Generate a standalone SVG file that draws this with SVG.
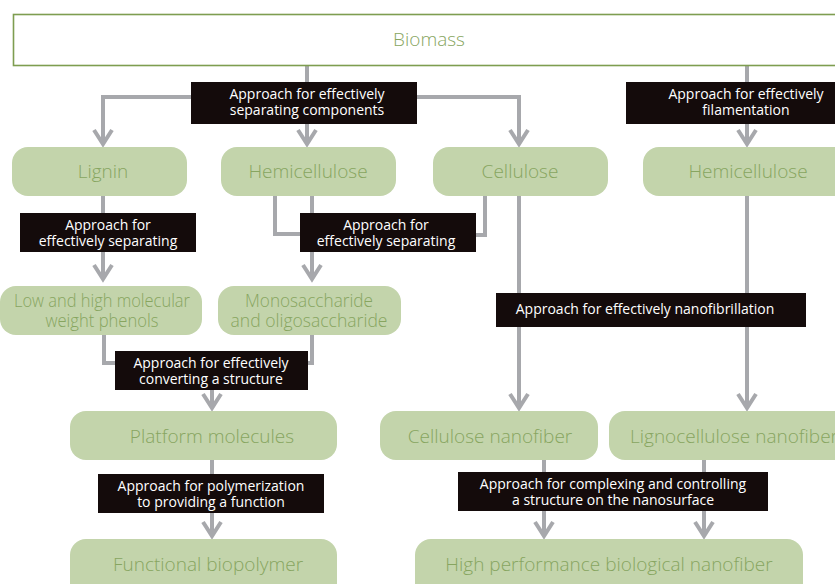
<svg xmlns="http://www.w3.org/2000/svg" width="835" height="584" viewBox="0 0 835 584">
<defs>
<style>
.node{fill:#c3d4ab}
.nt{font-family:"Open Sans","Noto Sans",sans-serif;font-size:19px;fill:#87a560;text-anchor:middle;font-weight:300}
.nt2{font-size:17.5px}
.lb{fill:#140b0b}
.lt{font-family:"Open Sans","Noto Sans",sans-serif;font-size:14px;fill:#ffffff;text-anchor:middle}
.ln{fill:none;stroke:#a7a8ac;stroke-width:4}
</style>
<marker id="arr" markerUnits="userSpaceOnUse" orient="auto" refX="0" refY="0" markerWidth="30" markerHeight="30" viewBox="-20 -15 30 30" overflow="visible">
<path d="M-14,-9 L0,0 L-14,9" fill="none" stroke="#a7a8ac" stroke-width="4"/>
</marker>
</defs>
<rect width="835" height="584" fill="#ffffff"/>

<g id="connectors">
<path class="ln" d="M307,65 V144" marker-end="url(#arr)"/>
<path class="ln" d="M103,144 V97 H519 V144" />
<path class="ln" d="M103,97 V144" marker-end="url(#arr)"/>
<path class="ln" d="M519,97 V144" marker-end="url(#arr)"/>
<path class="ln" d="M747,65 V144" marker-end="url(#arr)"/>
<path class="ln" d="M103,196 V279" marker-end="url(#arr)"/>
<path class="ln" d="M275,196 V234 H300"/>
<path class="ln" d="M312,196 V279" marker-end="url(#arr)"/>
<path class="ln" d="M485,196 V235 H476"/>
<path class="ln" d="M104,335 V363 H115"/>
<path class="ln" d="M312,335 V363 H308"/>
<path class="ln" d="M212,390 V408" marker-end="url(#arr)"/>
<path class="ln" d="M519,196 V408" marker-end="url(#arr)"/>
<path class="ln" d="M747,196 V408" marker-end="url(#arr)"/>
<path class="ln" d="M212,460 V536" marker-end="url(#arr)"/>
<path class="ln" d="M544,460 V536" marker-end="url(#arr)"/>
<path class="ln" d="M704,460 V536" marker-end="url(#arr)"/>
</g>

<g id="biomass">
<rect x="13.5" y="14.5" width="830" height="51" fill="#ffffff" stroke="#7e9d50" stroke-width="1.6"/>
<text class="nt" x="429" y="46">Biomass</text>
</g>

<g id="label-separating-components">
<rect class="lb" x="191" y="82" width="226" height="42"/>
<text class="lt" x="307" y="99">Approach for effectively</text>
<text class="lt" x="307" y="115">separating components</text>
</g>
<g id="label-filamentation">
<rect class="lb" x="626" y="82" width="215" height="42"/>
<text class="lt" x="746" y="99">Approach for effectively</text>
<text class="lt" x="746" y="115">filamentation</text>
</g>

<g id="lignin">
<rect class="node" x="12" y="147" width="175" height="49" rx="16"/>
<text class="nt" x="103" y="178">Lignin</text>
</g>
<g id="hemicellulose">
<rect class="node" x="221" y="147" width="175" height="49" rx="16"/>
<text class="nt" x="308" y="178">Hemicellulose</text>
</g>
<g id="cellulose">
<rect class="node" x="433" y="147" width="175" height="49" rx="16"/>
<text class="nt" x="520" y="178">Cellulose</text>
</g>
<g id="hemicellulose-right">
<rect class="node" x="643" y="147" width="210" height="49" rx="16"/>
<text class="nt" x="748" y="178">Hemicellulose</text>
</g>

<g id="label-separating-1">
<rect class="lb" x="20" y="213" width="176" height="39"/>
<text class="lt" x="108" y="230">Approach for</text>
<text class="lt" x="108" y="246">effectively separating</text>
</g>
<g id="label-separating-2">
<rect class="lb" x="300" y="213" width="176" height="39"/>
<text class="lt" x="386" y="230">Approach for</text>
<text class="lt" x="386" y="246">effectively separating</text>
</g>

<g id="phenols">
<rect class="node" x="0" y="286" width="202" height="49" rx="16"/>
<text class="nt nt2" x="102" y="307" textLength="176" lengthAdjust="spacingAndGlyphs">Low and high molecular</text>
<text class="nt nt2" x="102" y="327" textLength="113" lengthAdjust="spacingAndGlyphs">weight phenols</text>
</g>
<g id="saccharide">
<rect class="node" x="218" y="286" width="183" height="49" rx="16"/>
<text class="nt nt2" x="309" y="307" textLength="128" lengthAdjust="spacingAndGlyphs">Monosaccharide</text>
<text class="nt nt2" x="309" y="327" textLength="157" lengthAdjust="spacingAndGlyphs">and oligosaccharide</text>
</g>

<g id="label-nanofibrillation">
<rect class="lb" x="496" y="293" width="310" height="34"/>
<text class="lt" x="645" y="314">Approach for effectively nanofibrillation</text>
</g>

<g id="label-converting">
<rect class="lb" x="115" y="351" width="193" height="39"/>
<text class="lt" x="211" y="368">Approach for effectively</text>
<text class="lt" x="211" y="384">converting a structure</text>
</g>

<g id="platform">
<rect class="node" x="70" y="411" width="267" height="49" rx="16"/>
<text class="nt" x="212" y="443">Platform molecules</text>
</g>
<g id="cellulose-nanofiber">
<rect class="node" x="380" y="411" width="218" height="49" rx="16"/>
<text class="nt" x="490" y="443">Cellulose nanofiber</text>
</g>
<g id="lignocellulose-nanofiber">
<rect class="node" x="609" y="411" width="250" height="49" rx="16"/>
<text class="nt" x="630" y="443" style="text-anchor:start">Lignocellulose nanofiber</text>
</g>

<g id="label-polymerization">
<rect class="lb" x="98" y="474" width="226" height="39"/>
<text class="lt" x="211" y="491">Approach for polymerization</text>
<text class="lt" x="211" y="507">to providing a function</text>
</g>
<g id="label-complexing">
<rect class="lb" x="458" y="472" width="310" height="39"/>
<text class="lt" x="613" y="489">Approach for complexing and controlling</text>
<text class="lt" x="613" y="505">a structure on the nanosurface</text>
</g>

<g id="functional-biopolymer">
<rect class="node" x="70" y="539" width="267" height="60" rx="16"/>
<text class="nt" x="208" y="571">Functional biopolymer</text>
</g>
<g id="high-performance">
<rect class="node" x="415" y="539" width="388" height="60" rx="16"/>
<text class="nt" x="609" y="571">High performance biological nanofiber</text>
</g>
</svg>
